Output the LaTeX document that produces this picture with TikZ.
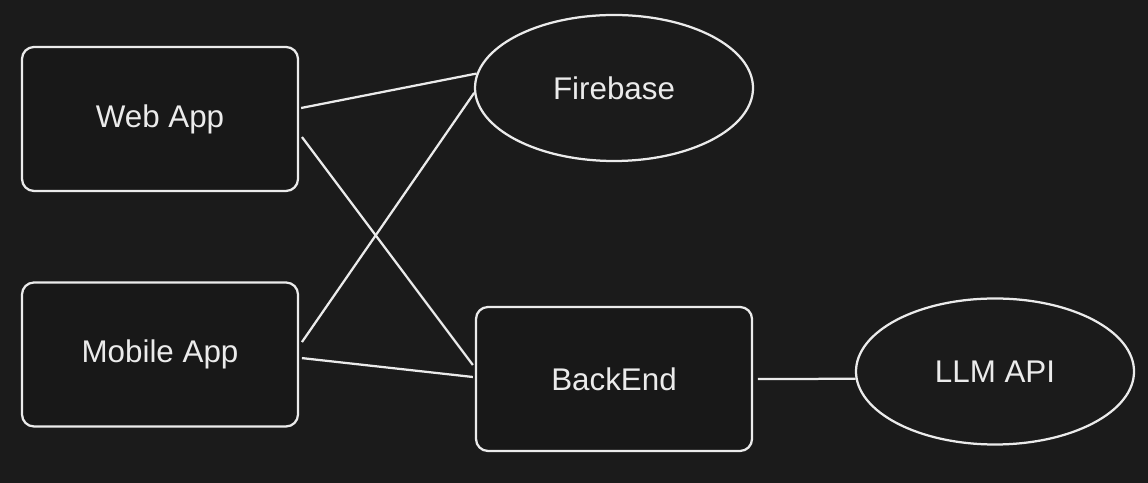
\documentclass[tikz,border=0pt]{standalone}
\usepackage{fontspec}
\setmainfont{Liberation Sans}
\usepackage{tikz}
\usetikzlibrary{positioning,calc,shapes.geometric}
\definecolor{bgdark}{HTML}{1B1B1B}
\definecolor{boxdark}{HTML}{181818}
\definecolor{inkwhite}{HTML}{EBEBEB}
\begin{document}
\begin{tikzpicture}[appbox/.style={rectangle, rounded corners=0.3cm, draw=inkwhite, fill=boxdark, line width = 1.6pt, minimum width=6.9cm, minimum height=3.6cm, inner sep=0pt, text=inkwhite, font=\fontsize{22.3}{26}\selectfont},
		service/.style={ellipse, draw=inkwhite, line width = 1.6pt, minimum width=6.95cm, minimum height=3.65cm, inner sep=0pt, text=inkwhite, font=\fontsize{22.3}{26}\selectfont},
		link/.style={inkwhite, line width = 1.6pt}]
		\fill [bgdark] (0,0) rectangle (28.7,12.075);
		\useasboundingbox (0,0) rectangle (28.7,12.075);

		\node (web) at (4.0,9.1) 	[appbox] {Web App};
		\node (mobile) at (4.0,3.2125) 	[appbox] {Mobile App};
		\node (backend) at (15.35,2.6) 	[appbox] {BackEnd};
		\node (firebase) at (15.35,9.875) 	[service] {Firebase};
		\node (llm) at (24.875,2.7875) 	[service] {LLM API};

		\draw [link] ([xshift=0.05cm, yshift=0.275cm]web.east) -- (firebase.174.5);
		\draw [link] ([xshift=0.07cm, yshift=-0.45cm]web.east) -- ([xshift=-0.05cm, yshift=0.35cm]backend.west);
		\draw [link] ([xshift=0.07cm, yshift=0.31cm]mobile.east) -- (firebase.182);
		\draw [link] ([xshift=0.07cm, yshift=-0.09cm]mobile.east) -- ([xshift=-0.05cm, yshift=0.05cm]backend.west);
		\draw [link] ([xshift=0.12cm]backend.east) -- (llm.183);
	\end{tikzpicture}
\end{document}
